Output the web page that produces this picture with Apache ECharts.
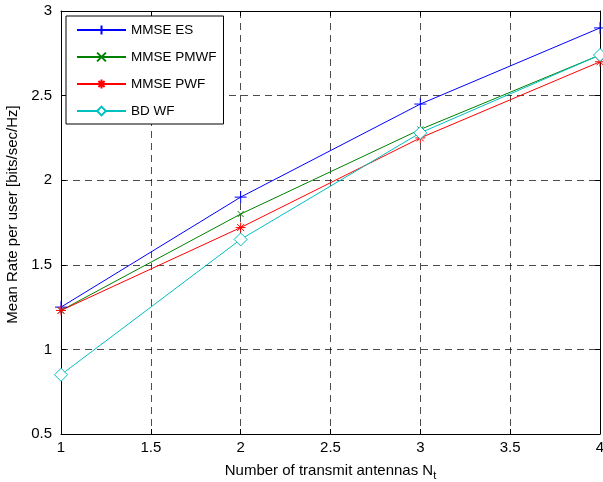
<!DOCTYPE html>
<html><head><meta charset="utf-8">
<script src="https://cdn.jsdelivr.net/npm/echarts@6/dist/echarts.min.js"></script>
<style>html,body{margin:0;padding:0;background:#fff}#c{width:603px;height:482px}</style>
</head><body><div id="c"></div>
<script>
const xValues = [1, 2, 3, 4];
const mmseES = [1.25, 1.90, 2.45, 2.90];
const mmsePMWF = [1.23, 1.80, 2.30, 2.74];
const mmsePWF = [1.23, 1.72, 2.25, 2.70];
const bdWF = [0.85, 1.65, 2.28, 2.74];
const seriesNames = ['MMSE ES', 'MMSE PMWF', 'MMSE PWF', 'BD WF'];

const F = 'Liberation Sans, Arial, sans-serif';
const chart = echarts.init(document.getElementById('c'));
const pts = a => xValues.map((x, i) => [x, a[i]]);
const plus = 'path://M0,-5L0,5M-5,0L5,0';
const cross = 'path://M-4,-4L4,4M-4,4L4,-4';
const star = 'path://M0,-5L0,5M-5,0L5,0M-3.5,-3.5L3.5,3.5M-3.5,3.5L3.5,-3.5';
function mk(name, data, color, symbol, size, hollow) {
  return {
    name, type: 'line', data: pts(data), symbol, symbolSize: size,
    showAllSymbol: true,
    lineStyle: { color, width: 1 },
    itemStyle: hollow ? { color: '#fff', borderColor: color, borderWidth: 1 }
                      : { color: 'none', borderColor: color, borderWidth: 1 },
    emphasis: { disabled: true }, animation: false
  };
}
const axisCommon = { type: 'value', min: 1, max: 4, interval: 0.5 };
const dash = { show: true, lineStyle: { color: '#000', type: [7, 5], width: 1, opacity: 0.7 } };
chart.setOption({
  backgroundColor: '#fff',
  animation: false,
  textStyle: { fontFamily: F },
  grid: { left: 61, right: 3, top: 11, bottom: 48, show: false, containLabel: false, outerBoundsMode: 'none' },
  legend: {
    orient: 'vertical', left: 66, top: 16,
    padding: [7, 7, 6, 10], itemWidth: 49, itemHeight: 11, itemGap: 13,
    backgroundColor: '#fff', borderColor: '#000', borderWidth: 1,
    textStyle: { fontSize: 13.5, fontFamily: F, color: '#000' },
    data: seriesNames
  },
  xAxis: [
    Object.assign({}, axisCommon, {
      position: 'bottom',
      name: '{a|Number of transmit antennas N}{s|t}', nameLocation: 'middle', nameGap: 27,
      nameTextStyle: { rich: { a: { fontSize: 15, fontFamily: F, color: '#000' }, s: { fontSize: 11, fontFamily: F, color: '#000', padding: [9, 0, 0, 0] } } },
      axisLine: { show: true, lineStyle: { color: '#000', width: 1 } },
      axisTick: { show: true, inside: true, length: 5, lineStyle: { color: '#000' } },
      axisLabel: { color: '#000', fontSize: 15, margin: 6, fontFamily: F },
      splitLine: dash
    }),
    Object.assign({}, axisCommon, {
      position: 'top',
      axisLine: { show: true, lineStyle: { color: '#000', width: 1 } },
      axisTick: { show: true, inside: true, length: 5, lineStyle: { color: '#000' } },
      axisLabel: { show: false }, splitLine: { show: false }
    })
  ],
  yAxis: [
    {
      type: 'value', min: 0.5, max: 3, interval: 0.5, position: 'left',
      name: 'Mean Rate per user [bits/sec/Hz]', nameLocation: 'middle', nameGap: 38,
      nameTextStyle: { fontSize: 15, color: '#000', fontFamily: F, padding: [0, 0, 0, 16] },
      axisLine: { show: true, lineStyle: { color: '#000', width: 1 } },
      axisTick: { show: true, inside: true, length: 5, lineStyle: { color: '#000' } },
      axisLabel: { color: '#000', fontSize: 15, margin: 9, fontFamily: F },
      splitLine: dash
    },
    {
      type: 'value', min: 0.5, max: 3, interval: 0.5, position: 'right',
      axisLine: { show: true, lineStyle: { color: '#000', width: 1 } },
      axisTick: { show: true, inside: true, length: 5, lineStyle: { color: '#000' } },
      axisLabel: { show: false }, splitLine: { show: false }
    }
  ],
  series: [
    mk(seriesNames[0], mmseES, '#0000ff', plus, 12, false),
    mk(seriesNames[1], mmsePMWF, '#008000', cross, 6, false),
    mk(seriesNames[2], mmsePWF, '#ff0000', star, 10, false),
    mk(seriesNames[3], bdWF, '#00bfbf', 'diamond', 13, true)
  ]
});
</script></body></html>
